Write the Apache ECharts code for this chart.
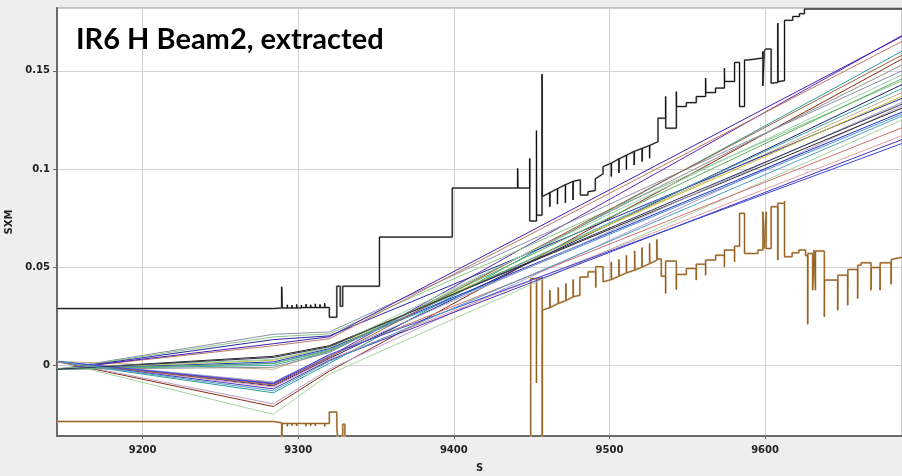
<!DOCTYPE html>
<html>
<head>
<meta charset="utf-8">
<script src="https://cdn.jsdelivr.net/npm/echarts@6/dist/echarts.min.js"></script>
<style>
html,body{margin:0;padding:0;background:#eeeeee;}
#chart{width:902px;height:476px;}
</style>
</head>
<body>
<div id="chart"></div>
<script>
// ---- data ----
const titleText = 'IR6 H Beam2, extracted';
const xTicks = [9200, 9300, 9400, 9500, 9600];
const yTicks = [0, 0.05, 0.1, 0.15];

// knots (s) of the tracked SXM lines
const sKnots = [9145, 9284, 9320, 9688];
// SXM value of each line at the knots
const sxmLines = [
  [0.0020, -0.0250, -0.0045, 0.125],
  [0.0020, -0.0210, -0.0030, 0.156],
  [0.0022, -0.0196, -0.0020, 0.132],
  [0.0018, -0.0140,  0.0010, 0.160],
  [0.0020, -0.0105,  0.0035, 0.143],
  [0.0020, -0.0095,  0.0045, 0.168],
  [0.0016, -0.0088,  0.0050, 0.121],
  [0.0020, -0.0020,  0.0075, 0.139],
  [-0.0020, 0.0158,  0.0170, 0.150],
  [-0.0020, 0.0145,  0.0160, 0.145],
  [-0.0022, 0.0131,  0.0150, 0.136],
  [-0.0020, 0.0100,  0.0135, 0.165],
  [-0.0020, 0.0046,  0.0100, 0.131],
  [-0.0018, 0.0026,  0.0090, 0.137],
  [-0.0020, 0.0017,  0.0085, 0.129],
  [-0.0020, 0.0009,  0.0080, 0.128],
  [-0.0020, 0.0000,  0.0070, 0.141],
  [0.0020, -0.0110,  0.0030, 0.117],
  [-0.0020, -0.0010, 0.0065, 0.153],
  [0.0020, -0.0120,  0.0025, 0.115],
  [-0.0020, 0.0110,  0.0145, 0.1675],
  [0.0018, -0.0100,  0.0040, 0.158],
  [-0.0015, 0.0030,  0.0090, 0.148],
  [0.0020, -0.0085,  0.0050, 0.134],
  [-0.0020, 0.0010,  0.0075, 0.146],
  [0.0020, -0.0092,  0.0055, 0.113],
  [-0.0020, 0.0040,  0.0095, 0.133],
  [0.0020, -0.0130,  0.0020, 0.127]
];
const lineColors = ['#a8d4a0','#8b2a10','#b89cc8','#2a9d9d','#1e1e78','#5a28b4','#d07070','#c8aa8c',
  '#8c90a8','#88c488','#2828a0','#c07868','#282828','#c0c028','#2030c8','#5090c8','#40a8a8',
  '#e0a0a8','#909090','#4830c0','#4020b0','#a06040','#98d0a8','#a0a0c8','#60b060','#3848d8','#303050','#50a0c0'];

// upper envelope (black step curve)
const blackS = [9145,9284,9284,9289.4,9289.4,9289.7,9293,9293,9293.2,9296,9296,9296.2,9299,9299,9299.2,9302,9302,9302.2,
  9305,9305,9305.2,9308,9308,9308.2,9311,9311,9311.2,9314,9314,9314.2,9317,9317,9317.2,9320,9320,9324.8,9324.8,9327,9327,
  9328.6,9328.6,9352.2,9352.2,9399,9399,9441,9441,9441.2,9448.8,9448.8,9448.8,9453.1,9453.1,9453.2,9456.7,9456.7,9456.8,
  9461.7,9461.7,9461.8,9466.6,9466.6,9466.7,9471.7,9471.7,9471.8,9476.6,9476.6,9476.7,9481.3,9481.3,9486.2,9486.2,
  9490.9,9490.9,9495.9,9495.9,9501.2,9501.2,9501.3,9506.1,9506.1,9506.2,9510.9,9510.9,9511.0,9515.9,9515.9,9516.0,
  9521.0,9521.0,9521.1,9525.8,9525.8,9525.9,9531.2,9531.2,9536.1,9536.1,9536.2,9543,9543,9543.1,9549.4,9549.4,9555.8,
  9555.8,9561.8,9561.8,9561.9,9568.2,9568.2,9573.9,9573.9,9574.0,9580.4,9580.4,9583.6,9583.6,9586.8,9586.8,9588.9,9588.9,
  9598.6,9598.6,9598.6,9599.5,9599.5,9600.3,9600.3,9603.9,9603.9,9608.2,9608.2,9608.3,9612.5,9612.5,9617.8,9617.8,
  9622.1,9622.1,9625.3,9625.3,9688];
const blackV = [0.0289,0.0289,0.0292,0.0292,0.0400,0.0292,0.0292,0.0308,0.0292,0.0292,0.0306,0.0292,0.0292,0.0310,0.0292,0.0292,0.0306,0.0294,
  0.0294,0.0312,0.0294,0.0294,0.0308,0.0294,0.0294,0.0313,0.0294,0.0294,0.0310,0.0294,0.0294,0.0316,0.0294,0.0294,0.0245,0.0245,0.0403,0.0403,0.0301,
  0.0301,0.0403,0.0403,0.0653,0.0653,0.0903,0.0903,0.1003,0.0903,0.0903,0.1054,0.0735,0.0735,0.1195,0.0765,0.0765,0.1483,0.0859,
  0.0880,0.0808,0.0880,0.0900,0.0821,0.0900,0.0920,0.0828,0.0920,0.0937,0.0842,0.0937,0.0945,0.0867,0.0867,0.0884,
  0.0890,0.0950,0.0975,0.1012,0.1030,0.0962,0.1030,0.1052,0.0980,0.1052,0.1070,0.0998,0.1070,0.1090,0.1020,0.1090,
  0.1105,0.1038,0.1105,0.1120,0.1055,0.1120,0.1139,0.1259,0.1259,0.1369,0.1208,0.1208,0.1394,0.1318,0.1318,0.1338,0.1338,
  0.1369,0.1369,0.1463,0.1389,0.1389,0.1412,0.1412,0.1514,0.1446,0.1446,0.1543,0.1543,0.1318,0.1318,0.1555,0.1555,0.1565,
  0.1565,0.1599,0.1423,0.1423,0.1599,0.1599,0.1611,0.1611,0.1437,0.1440,0.1743,0.1445,0.1450,0.1757,0.1757,0.1777,
  0.1777,0.1791,0.1791,0.1815,0.1815];

// lower envelope (brown step curve)
const brownS = [9145,9284,9284,9289.4,9289.4,9289.7,9293,9293,9293.2,9296,9296,9296.2,9299,9299,9299.2,9302,9302,9302.2,
  9305,9305,9305.2,9308,9308,9308.2,9311,9311,9311.2,9314,9314,9314.2,9317,9317,9317.2,9320,9320,9324.8,9324.8,9326,9326,
  9328.6,9328.6,9330,9330,9449.4,9449.4,9453.1,9453.1,9453.2,9456.8,9456.8,9456.9,
  9461.7,9461.7,9461.8,9467.1,9467.1,9467.2,9472.0,9472.0,9472.1,9476.7,9476.7,9476.8,9481.0,9481.0,9486.3,9486.3,
  9491.2,9491.2,9491.2,9495.9,9495.9,9501.2,9501.2,9501.3,9506.1,9506.1,9506.2,9510.9,9510.9,9511.0,9516.2,9516.2,9516.3,
  9520.9,9520.9,9521.0,9525.8,9525.8,9525.9,9530.5,9530.5,9530.6,9533.3,9533.3,9536.1,9536.1,9536.1,9543.0,9543.0,9543.0,
  9549.4,9549.4,9555.8,9555.8,9555.8,9561.8,9561.8,9561.8,9568.2,9568.2,9573.9,9573.9,9573.9,9580.4,9580.4,9580.4,
  9583.6,9583.6,9586.8,9586.8,9586.8,9595.4,9595.4,9598.6,9598.6,9599.5,9600.7,9600.7,9603.9,9603.9,9608.2,9608.2,9608.2,
  9612.5,9612.5,9612.5,9617.4,9617.4,9621.7,9621.7,9626.0,9626.0,9627.4,9627.4,9627.5,9630.6,9630.6,9631.5,9632.4,9632.4,
  9638.1,9638.1,9638.2,9646.7,9646.7,9646.8,9653.1,9653.1,9653.2,9659.5,9659.5,9659.6,9661.7,9661.7,9668.1,9668.1,9668.2,
  9673.9,9673.9,9674.0,9681.0,9681.0,9681.1,9688];
const brownV = [-0.0286,-0.0286,-0.0293,-0.0293,-0.045,-0.0296,-0.0296,-0.0310,-0.0296,-0.0296,-0.0307,-0.0296,-0.0296,-0.0309,-0.0296,-0.0296,-0.0306,-0.0296,
  -0.0296,-0.0310,-0.0296,-0.0296,-0.0307,-0.0296,-0.0296,-0.0309,-0.0296,-0.0296,-0.0306,-0.0296,-0.0296,-0.0311,-0.0296,-0.0296,-0.0238,-0.0238,-0.0310,-0.0310,-0.045,
  -0.045,-0.0300,-0.0300,-0.045,-0.045,0.0442,0.0442,-0.0090,0.0442,0.0446,-0.045,0.0281,
  0.0294,0.0383,0.0294,0.0315,0.0396,0.0315,0.0330,0.0417,0.0330,0.0349,0.0437,0.0349,0.0357,0.0450,0.0450,0.0476,
  0.0476,0.0396,0.0502,0.0502,0.0425,0.0437,0.0527,0.0437,0.0454,0.0539,0.0454,0.0471,0.0560,0.0471,0.0485,0.0583,0.0485,
  0.0500,0.0600,0.0500,0.0518,0.0621,0.0518,0.0536,0.0641,0.0541,0.0541,0.0454,0.0454,0.0366,0.0531,0.0531,0.0386,0.0463,
  0.0463,0.0493,0.0493,0.0434,0.0515,0.0515,0.0459,0.0536,0.0536,0.0561,0.0561,0.0502,0.0587,0.0587,0.0527,0.0607,
  0.0607,0.0774,0.0774,0.0780,0.0570,0.0570,0.0587,0.0587,0.0782,0.0595,0.0782,0.0595,0.0595,0.0808,0.0808,0.0536,0.0825,
  0.0825,0.0837,0.0553,0.0553,0.0573,0.0573,0.0587,0.0587,0.0560,0.0560,0.0209,0.0570,0.0570,0.0383,0.0587,0.0383,0.0582,
  0.0582,0.0247,0.0434,0.0434,0.0281,0.0459,0.0459,0.0306,0.0488,0.0488,0.0340,0.0510,0.0510,0.0522,0.0522,0.0383,0.0498,
  0.0498,0.0383,0.0522,0.0522,0.0413,0.0539,0.0550];

// ---- chart ----
const zip = (xs, ys) => xs.map((x, i) => [x, ys[i]]);
const chart = echarts.init(document.getElementById('chart'), null, {renderer: 'canvas'});
const labelFont = {fontFamily: 'DejaVu Sans', fontWeight: 'bold', fontSize: 10, color: '#222'};

const series = [];
sxmLines.forEach((vals, i) => {
  series.push({type: 'line', data: zip(sKnots, vals), symbol: 'none', silent: true,
    lineStyle: {color: lineColors[i], width: 1}, z: 3});
});
series.push({type: 'line', data: zip(brownS, brownV), symbol: 'none', silent: true,
  lineStyle: {color: '#cdb08e', width: 2}, z: 2});
series.push({type: 'line', data: zip(brownS, brownV), symbol: 'none', silent: true,
  lineStyle: {color: '#93601f', width: 1}, z: 2});
series.push({type: 'line', data: zip(blackS, blackV), symbol: 'none', silent: true,
  lineStyle: {color: '#aaaaaa', width: 2}, z: 4});
series.push({type: 'line', data: zip(blackS, blackV), symbol: 'none', silent: true,
  lineStyle: {color: '#111111', width: 1}, z: 4});

chart.setOption({
  animation: false,
  backgroundColor: '#eeeeee',
  grid: {left: 57, right: 0, top: 8, bottom: 40, show: true, backgroundColor: '#ffffff',
    borderColor: '#9a9a9a', borderWidth: 1, containLabel: false, outerBoundsMode: 'none'},
  xAxis: {
    type: 'value', min: 9145, max: 9688,
    name: 'S', nameLocation: 'middle', nameGap: 27,
    nameTextStyle: labelFont,
    axisLine: {onZero: false, lineStyle: {color: '#6a6a6a', width: 2}},
    axisTick: {show: true, length: 3, customValues: xTicks, lineStyle: {color: '#6a6a6a'}},
    axisLabel: Object.assign({customValues: xTicks, margin: 9, formatter: v => String(v)}, labelFont),
    splitLine: {show: true, lineStyle: {color: '#d2d2d2', width: 1}}
  },
  yAxis: {
    type: 'value', min: -0.036, max: 0.182,
    name: 'SXM', nameLocation: 'middle', nameGap: 36, nameRotate: 90,
    nameTextStyle: labelFont,
    axisLine: {onZero: false, lineStyle: {color: '#6a6a6a', width: 2}},
    axisTick: {show: true, length: 4, customValues: yTicks, lineStyle: {color: '#6a6a6a'}},
    axisLabel: Object.assign({customValues: yTicks, margin: 7, formatter: v => String(+v.toFixed(3))}, labelFont),
    splitLine: {show: true, lineStyle: {color: '#d2d2d2', width: 1}}
  },
  graphic: [{
    type: 'text', left: 76, top: 25, z: 100,
    style: {text: titleText, fontFamily: 'Lato', fontWeight: 'bold', fontSize: 29, fill: '#000'}
  }],
  series: series
});
</script>
</body>
</html>
